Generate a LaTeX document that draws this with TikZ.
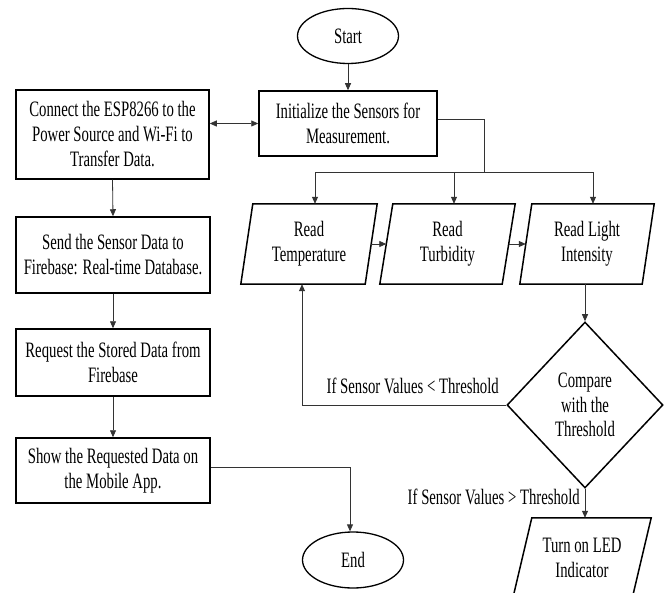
\documentclass[tikz,border=0pt]{standalone}
\usepackage{fontspec}
\setmainfont{Liberation Serif}[FakeStretch=0.67]
\usetikzlibrary{arrows.meta,shapes.geometric}
\newcommand\dfont{\fontsize{22}{25}\selectfont}
\begin{document}
\begin{tikzpicture}[x=1pt,y=-1pt,
  box/.style={rectangle, draw=black, line width=1.5pt, inner sep=0pt, align=center, font=\dfont},
  term/.style={ellipse, draw=black, line width=1.3pt, minimum width=101pt, minimum height=55pt, inner sep=0pt, font=\dfont},
  pbox/.style={rectangle, draw=none, inner sep=0pt, align=center, font=\dfont},
  pline/.style={draw=black, line width=1.5pt, line join=miter},
  conn/.style={draw=black!80, line width=0.8pt},
  arr/.style={conn, -{Triangle[length=7pt,width=6pt]}},
  lbl/.style={font=\dfont, inner sep=0pt}]
\useasboundingbox (0,0) rectangle (666,593);
\clip (0,0) rectangle (666,593);

% terminals
\node[term] (start) at (348,36) {Start};
\node[term, minimum height=56pt] (end) at (353,560) {End};

% process boxes
\node[box, minimum width=178pt, minimum height=65pt] (init) at (348,123.5) {Initialize the Sensors for\\Measurement.};
\node[box, minimum width=193pt, minimum height=89pt] (conn) at (112.5,134.5) {Connect the ESP8266 to the\\Power Source and Wi-Fi to\\Transfer Data.};
\node[box, minimum width=194pt, minimum height=76pt] (send) at (113,255) {Send the Sensor Data to\\Firebase: Real-time Database.};
\node[box, minimum width=194pt, minimum height=67pt] (req) at (113,362.5) {Request the Stored Data from\\Firebase};
\node[box, minimum width=194pt, minimum height=65pt] (show) at (113,470.5) {Show the Requested Data on\\the Mobile App.};

% input/output parallelograms
\node[pbox, minimum width=136pt, minimum height=80pt] (temp) at (309,244) {Read\\Temperature};
\draw[pline] ([xshift=12pt]temp.north west) -- (temp.north east) -- ([xshift=-12pt]temp.south east) -- (temp.south west) -- cycle;
\node[pbox, minimum width=135pt, minimum height=80pt] (turb) at (447.5,244) {Read\\Turbidity};
\draw[pline] ([xshift=13pt]turb.north west) -- (turb.north east) -- ([xshift=-13pt]turb.south east) -- (turb.south west) -- cycle;
\node[pbox, minimum width=134pt, minimum height=80pt] (light) at (587,244) {Read Light\\Intensity};
\draw[pline] ([xshift=12pt]light.north west) -- (light.north east) -- ([xshift=-12pt]light.south east) -- (light.south west) -- cycle;
\node[pbox, minimum width=138pt, minimum height=80pt] (led) at (582,558) {Turn on LED\\Indicator};
\draw[pline] ([xshift=19pt]led.north west) -- (led.north east) -- ([xshift=-19pt]led.south east) -- (led.south west) -- cycle;

% decision
\node[diamond, draw=black, line width=1.5pt, minimum width=156pt, minimum height=166pt, aspect=0.93, inner sep=0pt, align=center, font=\fontsize{22}{24.5}\selectfont] (dia) at (585,405) {Compare\\with the\\Threshold};

% labels
\node[lbl, anchor=east] (lt) at (499,386) {If Sensor Values < Threshold};
\node[lbl, anchor=east] (gt) at (580,497) {If Sensor Values > Threshold};

% connectors
\draw[arr] (start.south) -- (init.north);
\draw[conn, {Triangle[length=7pt,width=6pt]}-{Triangle[length=7pt,width=6pt]}] (conn.east |- init.west) -- (init.west);
\coordinate (br) at (484,172);
\draw[conn] ([yshift=4pt]init.east) -| (br);
\draw[arr] (br) -| ([xshift=6pt]temp.north);
\draw[arr] (br) -| ([xshift=6.5pt]turb.north);
\draw[arr] (br) -| ([xshift=6pt]light.north);
\draw[arr] ([xshift=-6pt]temp.east) -- ([xshift=6.5pt]turb.west);
\draw[arr] ([xshift=-6.5pt]turb.east) -- ([xshift=6pt]light.west);
\draw[arr] (dia.north |- light.south) -- (dia.north);
\draw[arr] (dia.west) -| ([xshift=-7pt]temp.south);
\draw[arr] (dia.south) -- (dia.south |- led.north);
\draw[arr] (conn.south) -- (send.north);
\draw[arr] (send.south) -- (req.north);
\draw[arr] (req.south) -- (show.north);
\draw[arr] ([yshift=3pt]show.east) -| ([xshift=-3pt]end.north);
\end{tikzpicture}
\end{document}
